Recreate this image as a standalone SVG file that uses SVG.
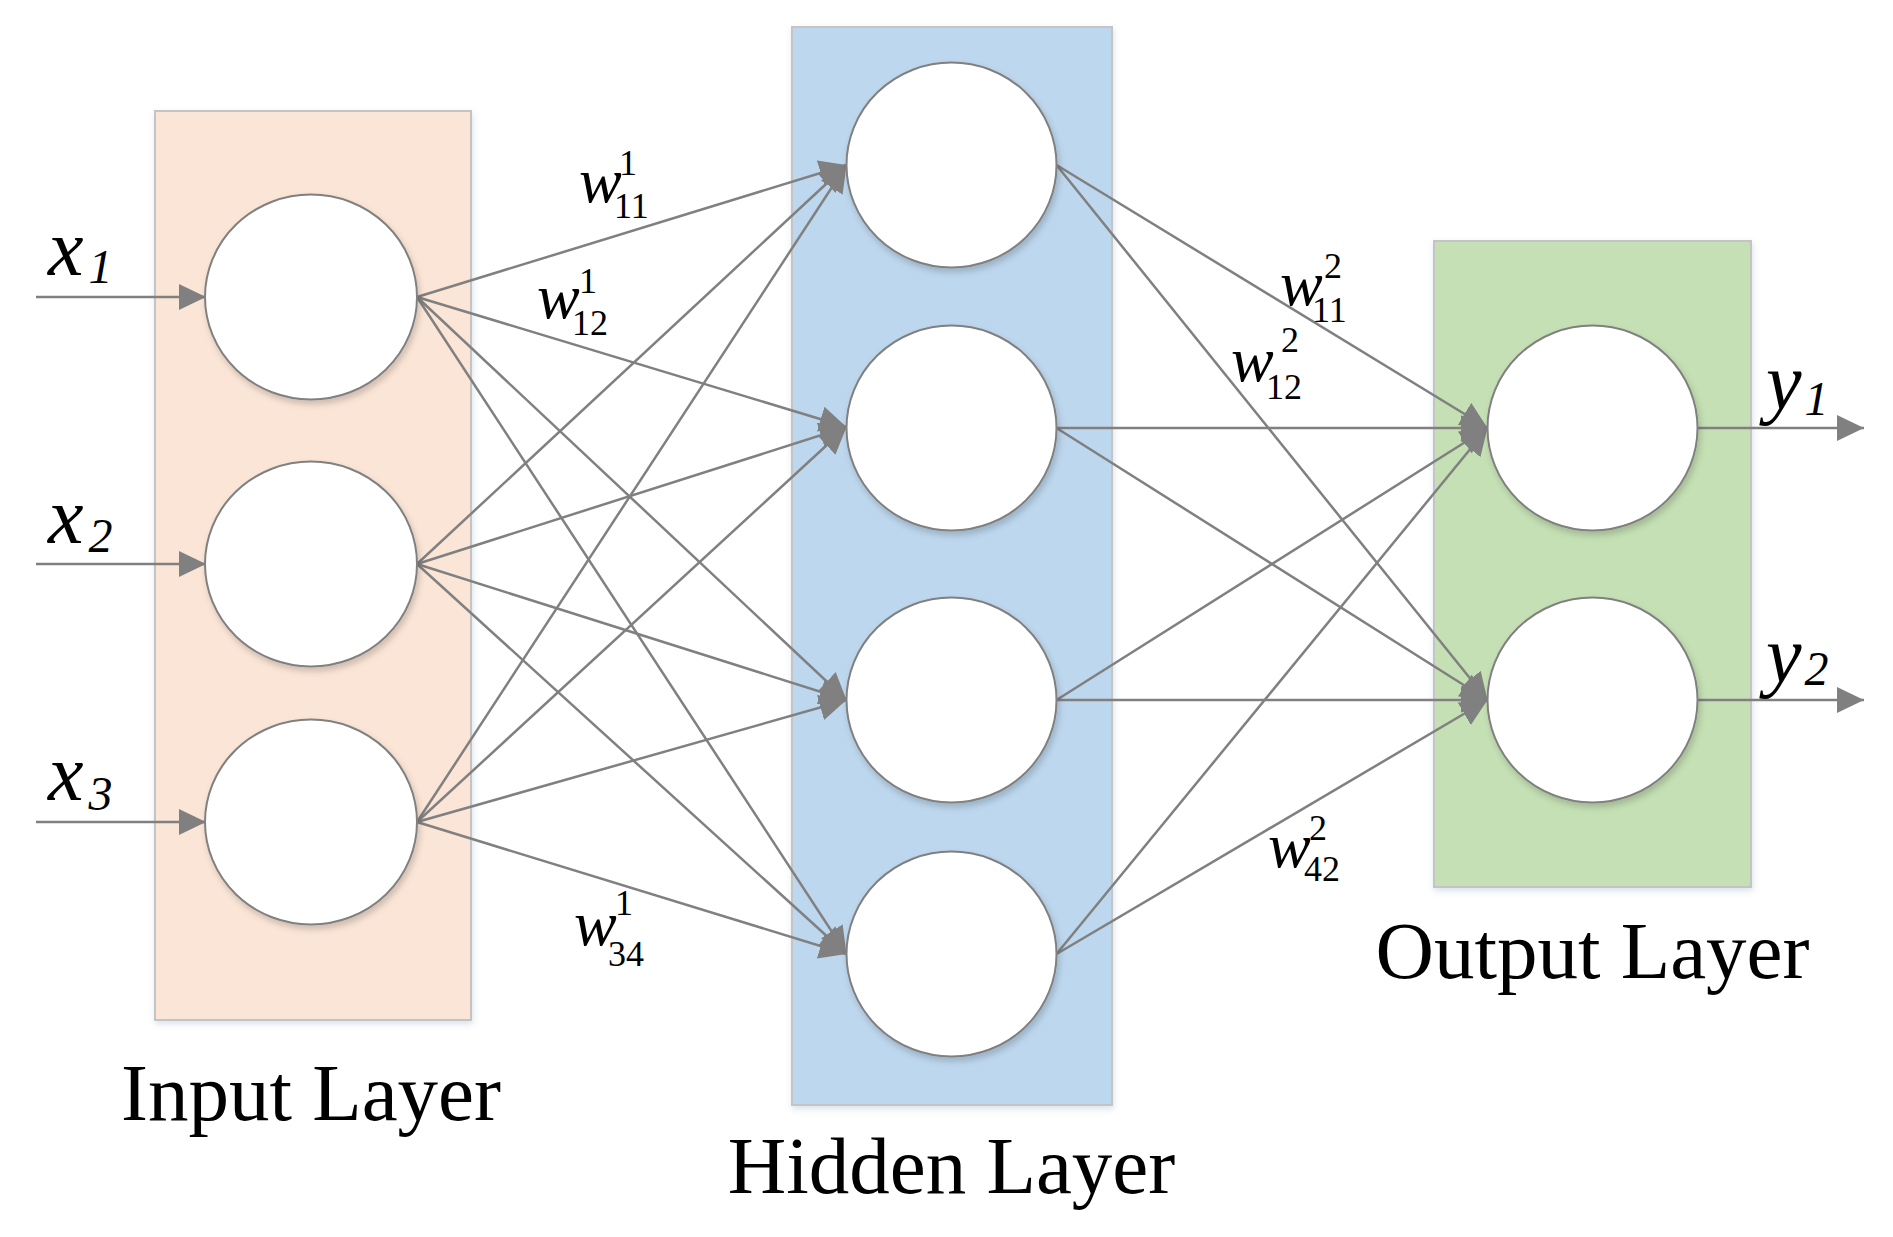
<svg xmlns="http://www.w3.org/2000/svg" width="1893" height="1237" viewBox="0 0 1893 1237">
<style>
.layer{stroke:#C4C4C4;stroke-width:2}
.node{fill:#FFFFFF;stroke:#808080;stroke-width:2}
.edge{stroke:#808080;stroke-width:2.5;fill:none}
.title{font-family:"Liberation Serif","Times New Roman",serif;font-size:81px;fill:#000;text-anchor:middle}
.var{font-family:"Liberation Serif","Times New Roman",serif;font-style:italic;font-size:80px;fill:#000}
.vsub{font-family:"Liberation Serif","Times New Roman",serif;font-style:italic;font-size:48px;fill:#000}
.w{font-family:"Liberation Serif","Times New Roman",serif;font-style:italic;font-size:64px;fill:#000}
.idx{font-family:"Liberation Serif","Times New Roman",serif;font-style:normal;font-size:36px;fill:#000}
</style>
<defs>
<marker id="ah" viewBox="0 0 27 26" refX="27" refY="13" markerWidth="27" markerHeight="26" markerUnits="userSpaceOnUse" orient="auto">
<path d="M0,0 L27,13 L0,26 z" fill="#808080"/>
</marker>
<filter id="nsh" x="-20%" y="-20%" width="140%" height="150%">
<feDropShadow dx="2" dy="4" stdDeviation="3" flood-color="#000" flood-opacity="0.18"/>
</filter>
<filter id="lsh" x="-5%" y="-5%" width="110%" height="110%">
<feDropShadow dx="1" dy="3" stdDeviation="3" flood-color="#6A8BB0" flood-opacity="0.25"/>
</filter>
</defs>
<rect width="1893" height="1237" fill="#FFFFFF"/>

<g id="input-layer">
<rect class="layer" x="155" y="111" width="316" height="909" fill="#FBE5D6" filter="url(#lsh)"/>
<text class="title" x="311" y="1120">Input Layer</text>
</g>
<g id="hidden-layer">
<rect class="layer" x="792" y="27" width="320" height="1078" fill="#BDD7EE" filter="url(#lsh)"/>
<text class="title" x="951.5" y="1193">Hidden Layer</text>
</g>
<g id="output-layer">
<rect class="layer" x="1434" y="241" width="317" height="646" fill="#C5E0B4" filter="url(#lsh)"/>
<text class="title" x="1592.5" y="978">Output Layer</text>
</g>

<g id="connectors">
<line class="edge" x1="36" y1="297" x2="206" y2="297" marker-end="url(#ah)"/>
<line class="edge" x1="36" y1="564" x2="206" y2="564" marker-end="url(#ah)"/>
<line class="edge" x1="36" y1="822" x2="206" y2="822" marker-end="url(#ah)"/>

<line class="edge" x1="417" y1="297" x2="846.5" y2="165" marker-end="url(#ah)"/>
<line class="edge" x1="417" y1="297" x2="846.5" y2="427" marker-end="url(#ah)"/>
<line class="edge" x1="417" y1="297" x2="846.5" y2="700" marker-end="url(#ah)"/>
<line class="edge" x1="417" y1="297" x2="846.5" y2="954" marker-end="url(#ah)"/>
<line class="edge" x1="417" y1="564" x2="846.5" y2="165" marker-end="url(#ah)"/>
<line class="edge" x1="417" y1="564" x2="846.5" y2="427" marker-end="url(#ah)"/>
<line class="edge" x1="417" y1="564" x2="846.5" y2="700" marker-end="url(#ah)"/>
<line class="edge" x1="417" y1="564" x2="846.5" y2="954" marker-end="url(#ah)"/>
<line class="edge" x1="417" y1="822" x2="846.5" y2="165" marker-end="url(#ah)"/>
<line class="edge" x1="417" y1="822" x2="846.5" y2="427" marker-end="url(#ah)"/>
<line class="edge" x1="417" y1="822" x2="846.5" y2="700" marker-end="url(#ah)"/>
<line class="edge" x1="417" y1="822" x2="846.5" y2="954" marker-end="url(#ah)"/>

<line class="edge" x1="1056.5" y1="165" x2="1487.5" y2="428" marker-end="url(#ah)"/>
<line class="edge" x1="1056.5" y1="165" x2="1487.5" y2="700" marker-end="url(#ah)"/>
<line class="edge" x1="1056.5" y1="428" x2="1487.5" y2="428" marker-end="url(#ah)"/>
<line class="edge" x1="1056.5" y1="428" x2="1487.5" y2="700" marker-end="url(#ah)"/>
<line class="edge" x1="1056.5" y1="700" x2="1487.5" y2="428" marker-end="url(#ah)"/>
<line class="edge" x1="1056.5" y1="700" x2="1487.5" y2="700" marker-end="url(#ah)"/>
<line class="edge" x1="1056.5" y1="954" x2="1487.5" y2="428" marker-end="url(#ah)"/>
<line class="edge" x1="1056.5" y1="954" x2="1487.5" y2="700" marker-end="url(#ah)"/>

<line class="edge" x1="1697.5" y1="428" x2="1864" y2="428" marker-end="url(#ah)"/>
<line class="edge" x1="1697.5" y1="700" x2="1864" y2="700" marker-end="url(#ah)"/>
</g>

<g id="input-1"><ellipse class="node" cx="311" cy="297" rx="106" ry="102.5" filter="url(#nsh)"/></g>
<g id="input-2"><ellipse class="node" cx="311" cy="564" rx="106" ry="102.5" filter="url(#nsh)"/></g>
<g id="input-3"><ellipse class="node" cx="311" cy="822" rx="106" ry="102.5" filter="url(#nsh)"/></g>
<g id="hidden-1"><ellipse class="node" cx="951.5" cy="165" rx="105" ry="102.5" filter="url(#nsh)"/></g>
<g id="hidden-2"><ellipse class="node" cx="951.5" cy="428" rx="105" ry="102.5" filter="url(#nsh)"/></g>
<g id="hidden-3"><ellipse class="node" cx="951.5" cy="700" rx="105" ry="102.5" filter="url(#nsh)"/></g>
<g id="hidden-4"><ellipse class="node" cx="951.5" cy="954" rx="105" ry="102.5" filter="url(#nsh)"/></g>
<g id="output-1"><ellipse class="node" cx="1592.5" cy="428" rx="105" ry="102.5" filter="url(#nsh)"/></g>
<g id="output-2"><ellipse class="node" cx="1592.5" cy="700" rx="105" ry="102.5" filter="url(#nsh)"/></g>

<g id="io-labels">
<text class="var" x="48" y="275">x<tspan class="vsub" dx="5" dy="8">1</tspan></text>
<text class="var" x="48" y="543">x<tspan class="vsub" dx="5" dy="9">2</tspan></text>
<text class="var" x="48" y="800">x<tspan class="vsub" dx="5" dy="10">3</tspan></text>
<text class="var" x="1766" y="409">y<tspan class="vsub" dx="3" dy="6">1</tspan></text>
<text class="var" x="1766" y="682">y<tspan class="vsub" dx="3" dy="3">2</tspan></text>
</g>

<g id="weight-labels">
<text class="w" x="579" y="202">w<tspan class="idx" x="619" y="175">1</tspan><tspan class="idx" x="614" y="218">11</tspan></text>
<text class="w" x="537" y="318">w<tspan class="idx" x="579" y="293">1</tspan><tspan class="idx" x="572" y="335">12</tspan></text>
<text class="w" x="574" y="945">w<tspan class="idx" x="615" y="915">1</tspan><tspan class="idx" x="608" y="966">34</tspan></text>
<text class="w" x="1280" y="305">w<tspan class="idx" x="1324" y="278">2</tspan><tspan class="idx" x="1312" y="322">11</tspan></text>
<text class="w" x="1231" y="381">w<tspan class="idx" x="1281" y="352">2</tspan><tspan class="idx" x="1266" y="399">12</tspan></text>
<text class="w" x="1268" y="867">w<tspan class="idx" x="1309" y="840">2</tspan><tspan class="idx" x="1304" y="881">42</tspan></text>
</g>
</svg>
